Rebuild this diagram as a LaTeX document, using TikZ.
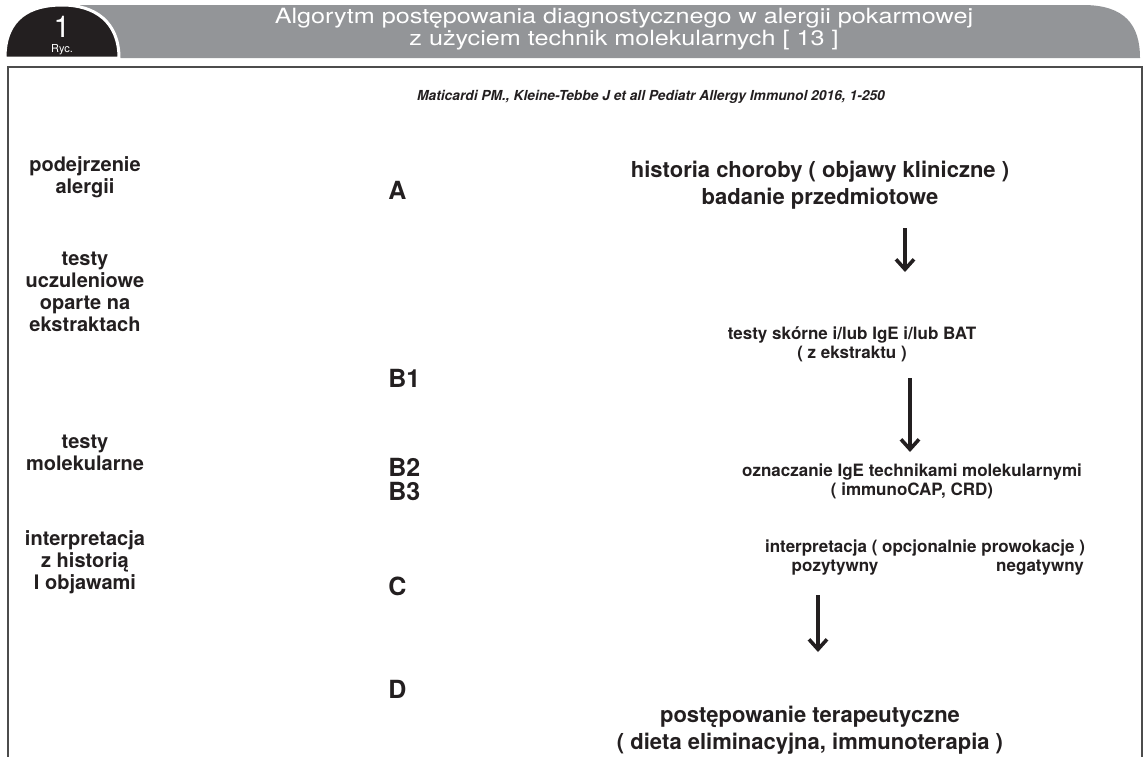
\documentclass[tikz,border=0pt]{standalone}
\usepackage{fontspec}
\setmainfont{TeX Gyre Heros}
\newfontfamily\titlefont[FakeStretch=1.2]{TeX Gyre Heros}
\usetikzlibrary{arrows.meta}
\definecolor{barGray}{HTML}{939598}
\definecolor{inkBlack}{HTML}{231F20}

\begin{document}
\begin{tikzpicture}[x=0.5pt,y=-0.5pt,
                       side node/.style={align=center,text=inkBlack,inner sep=0pt,
                                         font=\bfseries\fontsize{10}{11}\selectfont},
                       letter node/.style={anchor=west,text=inkBlack,inner sep=0pt,
                                         font=\bfseries\fontsize{12.5}{13}\selectfont},
                       big node/.style={align=center,text=inkBlack,inner sep=0pt,
                                         font=\bfseries\fontsize{11}{13.5}\selectfont},
                       mid node/.style={align=center,text=inkBlack,inner sep=0pt,
                                         font=\bfseries\fontsize{8.5}{9.5}\selectfont},
                       down arrow/.style={-{Straight Barb[length=5pt,width=9pt,line width=1.8pt]},
                                         line width=1.6pt,draw=inkBlack}
                           ]
   \useasboundingbox (0,0) rectangle (1146,756);
   % header bar and tab
   \fill[barGray] (80,5) -- (1083,5) .. controls (1125,5) and (1140,25) .. (1140,58) -- (80,58) -- cycle;
   \filldraw[fill=inkBlack,draw=white,line width=1.5pt]
      (5,58) .. controls (5,18) and (30,5) .. (62,5) .. controls (95,5) and (119,22) .. (119,58) -- cycle;
   \node[text=white,inner sep=0pt,font=\fontsize{15}{15}\selectfont] (num) at (62,27) {1};
   \node[text=white,inner sep=0pt,font=\fontsize{5.5}{6}\selectfont] (ryc) at (62,50) {Ryc.};
   \node[text=white,align=center,inner sep=0pt,font=\titlefont\fontsize{10.5}{10}\selectfont] (title) at (624,29)
      {Algorytm postępowania diagnostycznego w alergii pokarmowej\\ z użyciem technik molekularnych [ 13 ]};
   % frame
   \draw[line width=1pt,draw=black!70] (8,67) rectangle (1142,780);
   \node[text=inkBlack,font=\bfseries\itshape\fontsize{6.9}{8}\selectfont] (cite) at (651,97)
      {Maticardi PM., Kleine-Tebbe J et all Pediatr Allergy Immunol 2016, 1-250};
   % left column
   \node[side node] (susp) at (85,177) {podejrzenie\\ alergii};
   \node[side node] (extr) at (85,292) {testy\\ uczuleniowe\\ oparte na\\ ekstraktach};
   \node[side node] (molt) at (85,453) {testy\\ molekularne};
   \node[side node] (intl) at (85,562) {interpretacja\\ z historią\\ I objawami};
   % letters
   \node[letter node] (A) at (388,190) {A};
   \node[letter node] (B1) at (388,378) {B1};
   \node[letter node] (B2) at (388,467) {B2};
   \node[letter node] (B3) at (388,491) {B3};
   \node[letter node] (C) at (388,586) {C};
   \node[letter node] (D) at (388,689) {D};
   % right column
   \node[big node] (hist) at (820,185) {historia choroby ( objawy kliniczne )\\ badanie przedmiotowe};
   \node[mid node] (skin) at (852,344) {testy skórne i/lub IgE i/lub BAT\\ ( z ekstraktu )};
   \node[mid node] (mol) at (912,481) {oznaczanie IgE technikami molekularnymi\\ ( immunoCAP, CRD)};
   \node[mid node] (interp) at (925,548) {interpretacja ( opcjonalnie prowokacje )};
   \node[mid node] (pos) at (835,568) {pozytywny};
   \node[mid node] (neg) at (1040,568) {negatywny};
   \node[big node] (ther) at (810,730) {postępowanie terapeutyczne\\ ( dieta eliminacyjna, immunoterapia )};
   % arrow ends
   \coordinate (hist out) at (905,228);
   \coordinate (skin in) at (905,272);
   \coordinate (skin out) at (910,378);
   \coordinate (mol in) at (910,452);
   \coordinate (pos out) at (818,595);
   \coordinate (ther in) at (818,652);
      \path%
    (hist out) edge [down arrow] (skin in)
    (skin out) edge [down arrow] (mol in)
    (pos out) edge [down arrow] (ther in);
      \end{tikzpicture}
\end{document}
